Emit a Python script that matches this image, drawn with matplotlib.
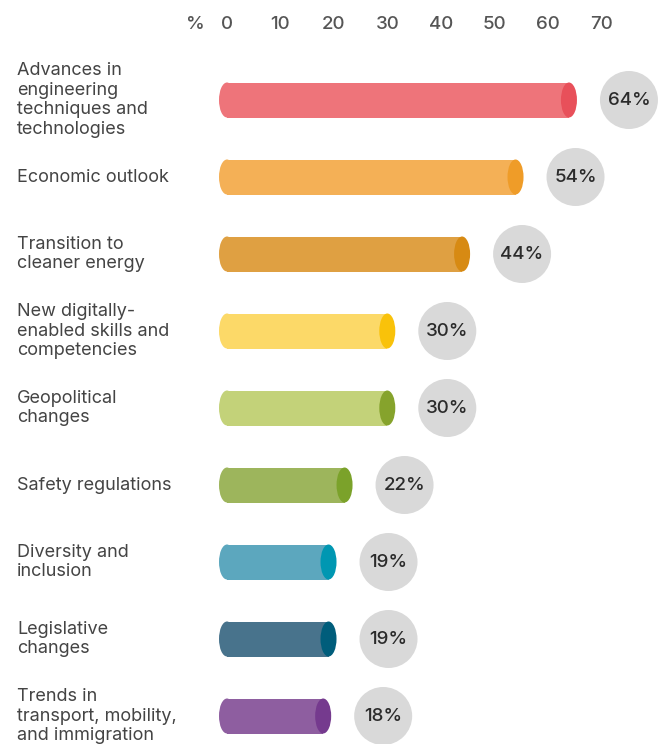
import matplotlib.pyplot as plt
from matplotlib.patches import Rectangle, Ellipse

plt.rcParams['font.family'] = ['Inter', 'DejaVu Sans']

labels = ["Advances in\nengineering\ntechniques and\ntechnologies",
          "Economic outlook",
          "Transition to\ncleaner energy",
          "New digitally-\nenabled skills and\ncompetencies",
          "Geopolitical\nchanges",
          "Safety regulations",
          "Diversity and\ninclusion",
          "Legislative\nchanges",
          "Trends in\ntransport, mobility,\nand immigration"]
values = [64, 54, 44, 30, 30, 22, 19, 19, 18]
body_colors = ["#EE747A", "#F4B056", "#DFA042", "#FCD968", "#C3D279",
               "#9DB55C", "#5CA7BE", "#48738C", "#8E5EA0"]
cap_colors = ["#E8505A", "#EF9C28", "#D78A13", "#F9C20A", "#86A32C",
              "#7BA22A", "#0097B2", "#005D7B", "#753A8E"]
ticks = [0, 10, 20, 30, 40, 50, 60, 70]

W, H = 661, 744
px_x = 5.343          # pixels per percent
x0 = 227              # pixel of 0%
row0, row_h = 100, 77 # first row centre, row pitch (pixels)

fig = plt.figure(figsize=(W / 100, H / 100), dpi=100)
ax = fig.add_axes([0, 0, 1, 1])
ax.set_xlim(-x0 / px_x, (W - x0) / px_x)
ax.set_ylim((H - row0) / row_h, -row0 / row_h)
ax.axis('off')

bar_h = 35 / row_h
cap_w = 16 / px_x
circ_r = 29
circ_off = 60 / px_x

for i, (lab, v) in enumerate(zip(labels, values)):
    c, cc = body_colors[i], cap_colors[i]
    ax.add_patch(Ellipse((0, i), cap_w, bar_h, color=c, lw=0))
    ax.add_patch(Rectangle((0, i - bar_h / 2), v, bar_h, color=c, lw=0))
    ax.add_patch(Ellipse((v, i), cap_w, bar_h, color=cc, lw=0))
    cx = v + circ_off
    ax.add_patch(Ellipse((cx, i), 2 * circ_r / px_x, 2 * circ_r / row_h,
                         color="#D9D9D9", lw=0))
    ax.text(cx, i, f"{v}%", ha='center', va='center', fontsize=13.5,
            color="#2B2B2B", fontweight='medium')
    ax.text(-(x0 - 17) / px_x, i, lab, ha='left', va='center', fontsize=13,
            color="#444444", linespacing=1.2)

ty = (24 - row0) / row_h
for t in ticks:
    ax.text(t, ty, str(t), ha='center', va='center', fontsize=13.5,
            color="#555555", fontweight='medium')
ax.text(-6, ty, "%", ha='center', va='center', fontsize=13.5,
        color="#555555", fontweight='medium')

fig.savefig("out.png", dpi=100)
